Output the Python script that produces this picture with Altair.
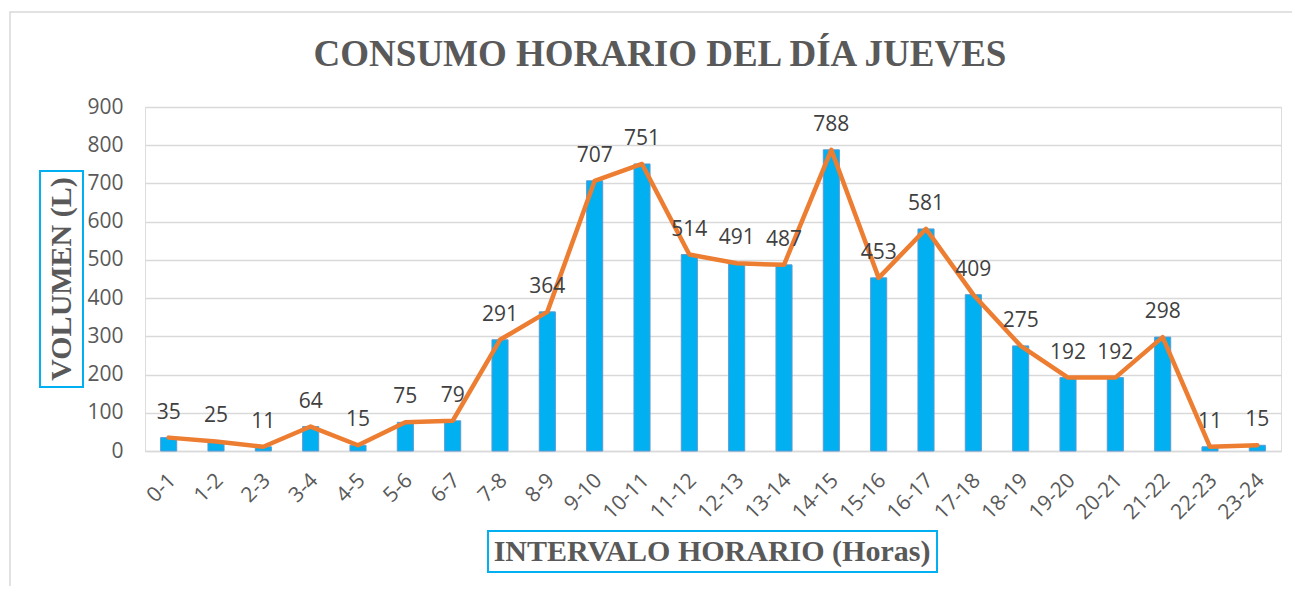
import altair as alt
import pandas as pd

intervalos = ["0-1", "1-2", "2-3", "3-4", "4-5", "5-6", "6-7", "7-8", "8-9", "9-10",
              "10-11", "11-12", "12-13", "13-14", "14-15", "15-16", "16-17", "17-18",
              "18-19", "19-20", "20-21", "21-22", "22-23", "23-24"]
volumen = [35, 25, 11, 64, 15, 75, 79, 291, 364, 707, 751, 514, 491, 487, 788,
           453, 581, 409, 275, 192, 192, 298, 11, 15]
y_ticks = [0, 100, 200, 300, 400, 500, 600, 700, 800, 900]

titulo = "CONSUMO HORARIO DEL DÍA JUEVES"
titulo_y = "VOLUMEN (L)"
titulo_x = "INTERVALO HORARIO (Horas)"

df = pd.DataFrame({"intervalo": intervalos, "volumen": volumen})

SERIF = "Liberation Serif"
SANS = "Open Sans"

x_enc = alt.X("intervalo:N", sort=intervalos,
              scale=alt.Scale(paddingInner=0.66, paddingOuter=0.33),
              axis=alt.Axis(title=None, labelAngle=-45, labelAlign="right",
                            labelBaseline="middle", labelPadding=26, labelOffset=4,
                            labelFont=SANS, labelFontSize=21, labelColor="#595959",
                            ticks=False, domainColor="#D9D9D9", domainWidth=1.5,
                            grid=False))
y_enc = alt.Y("volumen:Q", scale=alt.Scale(domain=[0, 900], nice=False),
              axis=alt.Axis(title=None, values=y_ticks, labelFont=SANS,
                            labelFontSize=21, labelColor="#595959", ticks=False,
                            domain=False, labelPadding=22, gridColor="#D9D9D9",
                            gridWidth=1.5))

base = alt.Chart(df)

bars = base.mark_bar(color="#00B0F0", stroke="#5B9BD5", strokeWidth=1).encode(x=x_enc, y=y_enc)
line = base.mark_line(color="#ED7D31", strokeWidth=4.5, strokeJoin="round",
                      strokeCap="round").encode(x=x_enc, y=y_enc)
labels = base.mark_text(font=SANS, fontSize=21, color="#404040", dy=-25,
                        baseline="middle").encode(x=x_enc, y=y_enc,
                                                   text=alt.Text("volumen:Q"))

one = pd.DataFrame({"k": [0]})
border = alt.Chart(one).mark_rect(fillOpacity=0, stroke="#D9D9D9", strokeWidth=1.5).encode(
    x=alt.value(-135), x2=alt.value(1170), y=alt.value(-95), y2=alt.value(495))
title_mark = alt.Chart(pd.DataFrame({"t": [titulo]})).mark_text(
    font=SERIF, fontSize=37, fontWeight="bold", color="#595959",
    baseline="middle", align="center").encode(
    x=alt.value(515), y=alt.value(-52), text="t:N")
ybox = alt.Chart(one).mark_rect(fillOpacity=0, stroke="#00B0F0", strokeWidth=2).encode(
    x=alt.value(-105), x2=alt.value(-62), y=alt.value(64), y2=alt.value(280))
ytitle = alt.Chart(pd.DataFrame({"t": [titulo_y]})).mark_text(
    font=SERIF, fontSize=30, fontWeight="bold", color="#595959", angle=270,
    baseline="middle", align="center").encode(
    x=alt.value(-83), y=alt.value(172), text="t:N")
xbox = alt.Chart(one).mark_rect(fillOpacity=0, stroke="#00B0F0", strokeWidth=2).encode(
    x=alt.value(343), x2=alt.value(792), y=alt.value(424), y2=alt.value(465))
xtitle = alt.Chart(pd.DataFrame({"t": [titulo_x]})).mark_text(
    font=SERIF, fontSize=30, fontWeight="bold", color="#595959",
    baseline="middle", align="center").encode(
    x=alt.value(567), y=alt.value(445), text="t:N")

chart = alt.layer(border, bars, line, labels, title_mark, ybox, ytitle, xbox, xtitle).properties(
    width=1136, height=344,
    padding={"left": 137, "top": 99, "right": 11, "bottom": 135},
    autosize=alt.AutoSizeParams(type="none"),
).configure_view(stroke=None).configure(background="white")

chart.save("out.html", embed_options={"renderer": "svg", "actions": False})
